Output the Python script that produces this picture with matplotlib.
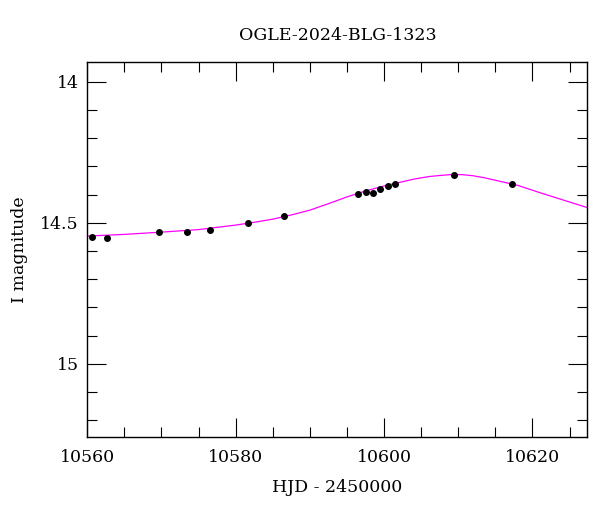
import matplotlib
matplotlib.use("Agg")
import matplotlib.pyplot as plt
from matplotlib.ticker import MultipleLocator

# observed points (HJD - 2450000, I mag)
hjd = [10560.6, 10562.7, 10569.6, 10573.5, 10576.6, 10581.6, 10586.5,
       10596.5, 10597.5, 10598.5, 10599.5, 10600.5, 10601.5, 10609.4, 10617.3]
mag = [14.552, 14.554, 14.534, 14.531, 14.525, 14.502, 14.477,
       14.399, 14.390, 14.394, 14.380, 14.371, 14.362, 14.331, 14.362]

# model curve
model_t = [10560, 10565, 10570, 10575, 10580, 10582.5, 10585, 10587.5, 10590,
           10592.5, 10595, 10597.5, 10600, 10602, 10604, 10606, 10607.5, 10609,
           10610.5, 10612, 10613.5, 10615, 10616.5, 10618, 10621, 10624, 10627.4]
model_m = [14.547, 14.541, 14.533, 14.524, 14.508, 14.498, 14.487, 14.472, 14.455,
           14.432, 14.408, 14.387, 14.369, 14.357, 14.345, 14.336, 14.332, 14.329,
           14.329, 14.333, 14.340, 14.349, 14.358, 14.367, 14.393, 14.418, 14.446]

plt.rcParams['font.family'] = ['DejaVu Serif']

fig = plt.figure(figsize=(6, 5.12), dpi=100)
ax = fig.add_axes([0.1455, 0.147, 0.8335, 0.731])

ax.plot(model_t, model_m, color='#ff00ff', lw=0.9, zorder=2)
ax.plot(hjd, mag, 'o', color='black', ms=4, zorder=3)

ax.set_xlim(10560, 10627.4)
ax.set_ylim(15.259, 13.931)

ax.xaxis.set_major_locator(MultipleLocator(20))
ax.xaxis.set_minor_locator(MultipleLocator(5))
ax.yaxis.set_major_locator(MultipleLocator(0.5))
ax.yaxis.set_minor_locator(MultipleLocator(0.1))
ax.yaxis.set_major_formatter(plt.FuncFormatter(lambda v, p: f"{v:g}"))

ax.tick_params(which='both', direction='in', top=True, right=True, width=0.8, labelsize=12.5)
ax.tick_params(which='major', length=13.5)
ax.tick_params(which='minor', length=7)
ax.tick_params(axis='x', pad=9)
ax.tick_params(axis='y', pad=6)
for s in ax.spines.values():
    s.set_linewidth(1.0)

ax.set_xlabel('HJD - 2450000', fontsize=12.5, labelpad=9)
ax.set_ylabel('I magnitude', fontsize=12.5)
ax.yaxis.set_label_coords(-0.118, 0.5)
ax.set_title('OGLE-2024-BLG-1323', fontsize=12.5, pad=16)

fig.savefig('out.png', dpi=100)
